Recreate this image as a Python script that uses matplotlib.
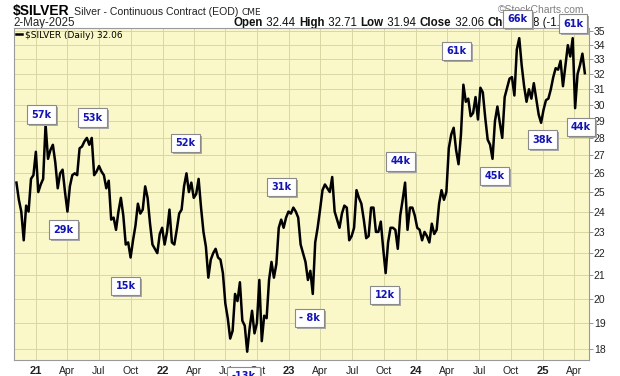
import matplotlib
matplotlib.use('Agg')
import matplotlib.pyplot as plt
import matplotlib.dates as mdates
import matplotlib.ticker as mticker
from matplotlib.transforms import offset_copy
import pandas as pd

plt.rcParams['font.family'] = ['Liberation Sans', 'DejaVu Sans']

W, H = 620, 376

# weekly closes of $SILVER
dates = pd.date_range('2020-11-06', '2025-05-02', freq='W-FRI')
closes = [
    # 2020
    25.5, 24.6, 24.0, 22.6, 24.3, 24.0, 25.7, 25.9,
    # 2021
    27.2, 25.0, 25.4, 25.7, 28.8,
    26.8, 27.3, 27.6, 26.6,
    25.2, 26.0, 26.2, 25.0,
    24.0, 25.3, 25.9, 26.0, 25.9,
    27.4, 27.5, 27.8, 28.0,
    27.6, 28.0, 25.9, 26.1,
    26.4, 26.1, 25.9, 25.2, 25.6,
    23.6, 23.7, 23.1, 24.0,
    24.7, 23.8, 22.4, 22.5,
    21.8, 22.6, 23.3, 24.4, 23.9,
    24.1, 25.3, 24.7, 23.4,
    22.4, 22.2, 22.0, 22.9, 23.2,
    # 2022
    22.4, 23.0, 24.1, 22.5,
    22.4, 23.1, 23.9, 24.1,
    25.3, 26.0, 25.0, 25.5,
    24.7, 24.9, 25.7, 24.2, 23.0,
    22.3, 20.9, 21.7, 22.0,
    22.2, 21.8, 21.7, 21.1,
    19.8, 19.2, 18.4, 18.7, 20.2,
    19.9, 20.7, 19.1, 18.9,
    17.9, 18.8, 19.5, 18.6, 19.0,
    20.8, 18.3, 19.3, 19.2,
    20.8, 21.6, 20.9, 21.5,
    23.2, 23.6, 23.2, 23.7, 24.0,
    # 2023
    23.9, 24.2, 24.0, 23.7,
    22.4, 22.0, 21.6, 20.8,
    21.2, 20.2, 22.5, 23.2, 24.1,
    25.1, 25.4, 25.2, 25.0,
    25.8, 24.0, 23.6, 23.2,
    23.9, 24.3, 24.2, 22.6, 22.8,
    23.2, 25.1, 24.7, 24.4,
    23.6, 22.7, 22.8, 24.2,
    24.2, 23.0, 23.0, 23.5, 22.2,
    21.1, 22.5, 23.2, 23.2,
    23.1, 22.2, 23.8, 24.6,
    25.5, 23.1, 24.2, 24.2, 23.8,
    # 2024
    23.2, 23.1, 22.6, 23.0,
    22.8, 22.5, 23.4, 22.9,
    23.1, 24.4, 25.1, 24.6, 25.0,
    27.4, 28.2, 28.6, 27.3,
    26.5, 28.2, 31.3, 30.2, 30.4,
    29.3, 29.5, 30.5, 29.1,
    31.1, 30.8, 29.2, 27.9,
    27.6, 26.8, 29.0, 29.9, 28.9,
    28.0, 30.5, 31.1, 31.7,
    31.8, 30.6, 33.7, 34.5,
    32.6, 31.2, 30.2, 31.0, 30.4,
    31.4, 30.4, 29.4, 28.9,
    # 2025
    29.7, 30.3, 30.4, 31.0, 31.8,
    32.4, 32.3, 32.9, 31.2,
    32.6, 34.0, 33.2, 34.5,
    29.8, 32.0, 32.6, 33.4,
    32.06,
]

tick_dates = pd.date_range('2021-01-01', '2025-04-01', freq='QS')
tick_labels = ['21', 'Apr', 'Jul', 'Oct', '22', 'Apr', 'Jul', 'Oct',
               '23', 'Apr', 'Jul', 'Oct', '24', 'Apr', 'Jul', 'Oct',
               '25', 'Apr']
price_ticks = list(range(18, 36))

# volume-style notes in boxes: label, date, price level
notes = [
    ('57k', '2021-01-18', 29.4), ('53k', '2021-06-14', 29.2),
    ('29k', '2021-03-22', 23.1), ('15k', '2021-09-17', 20.54),
    ('52k', '2022-03-09', 27.7), ('-13k', '2022-08-23', 17.01),
    ('31k', '2022-12-10', 25.26), ('- 8k', '2023-03-01', 19.21),
    ('12k', '2023-10-03', 20.15), ('44k', '2023-11-18', 26.67),
    ('61k', '2024-04-28', 33.58), ('45k', '2024-08-15', 25.85),
    ('66k', '2024-10-19', 35.91), ('38k', '2025-01-01', 27.9),
    ('61k', '2025-03-29', 35.57), ('44k', '2025-04-21', 28.64),
]

fig = plt.figure(figsize=(W / 100, H / 100), dpi=100)
ax = fig.add_axes([14 / W, (H - 359.5) / H, (589 - 14) / W, (359.5 - 28.3) / H])
ax.set_facecolor('#faf8c9')

ax.plot(dates, closes, color='black', lw=1.8, label=r'\$SILVER (Daily) 32.06')

ax.set_yscale('log')
ax.set_ylim(17.61, 35.22)
ax.set_xlim(pd.Timestamp('2020-10-30'), pd.Timestamp('2025-05-14'))
ax.yaxis.set_major_locator(mticker.FixedLocator(price_ticks))
ax.yaxis.set_major_formatter(mticker.FuncFormatter(lambda v, _: f'{v:.0f}'))
ax.yaxis.set_minor_locator(mticker.NullLocator())
ax.yaxis.tick_right()
ax.tick_params(axis='y', direction='out', length=3, width=0.6, color='#888888',
               labelsize=7.5, pad=0.5, labelcolor='#222222')
ax.set_xticks(tick_dates)
ax.set_xticklabels(tick_labels)
ax.tick_params(axis='x', length=0, pad=4.5, labelsize=7.5, labelcolor='#222222')
for lab in ax.get_xticklabels():
    if lab.get_text().isdigit():
        lab.set_fontweight('bold')
        lab.set_fontsize(8)
ax.grid(True, color='#d8d6a2', lw=0.7)
ax.set_axisbelow(True)
for sp in ax.spines.values():
    sp.set_color('#9a9a9a')
    sp.set_linewidth(0.8)

leg = ax.legend(loc='upper left', bbox_to_anchor=(0, 1), borderaxespad=0,
                borderpad=0.25, handlelength=0.6, handletextpad=0.35,
                frameon=False, prop={'family': 'DejaVu Sans', 'size': 6.5})

# annotation boxes with drop shadow
shadow_tr = offset_copy(ax.transData, fig=fig, x=2, y=-2, units='dots')
for lab, d, p in notes:
    xd = mdates.date2num(pd.Timestamp(d))
    ax.text(xd, p, lab, transform=shadow_tr, ha='center', va='center',
            fontsize=7, fontweight='bold', family='DejaVu Sans', color=(0, 0, 0, 0),
            bbox=dict(boxstyle='square,pad=0.45', fc='#a8a8a8', ec='none'),
            clip_on=False, zorder=5)
    ax.text(xd, p, lab, ha='center', va='center',
            fontsize=7, fontweight='bold', family='DejaVu Sans', color='#1414b4',
            bbox=dict(boxstyle='square,pad=0.45', fc='white', ec='#8a8a8a', lw=0.8),
            clip_on=False, zorder=6)

# header texts
fig.text(13 / W, 1 - 15 / H, r'\$SILVER', fontsize=10, fontweight='bold',
         va='baseline', zorder=-1)
fig.text(74 / W, 1 - 15 / H, 'Silver - Continuous Contract (EOD)', fontsize=7.6,
         va='baseline', color='#222222', zorder=-1)
fig.text(242 / W, 1 - 15 / H, 'CME', fontsize=6.5, family='DejaVu Sans',
         va='baseline', color='#222222', zorder=-1)
fig.text(13 / W, 1 - 26 / H, '2-May-2025', fontsize=8.3, va='baseline',
         color='#222222', zorder=-1)
fig.text(498 / W, 1 - 13 / H, '\u00a9StockCharts.com', fontsize=7.5,
         va='baseline', color='#808080', zorder=-1)

quote = [('Open', 'bold'), (' 32.44 ', 'normal'), ('High', 'bold'), (' 32.71 ', 'normal'),
         ('Low', 'bold'), (' 31.94 ', 'normal'), ('Close', 'bold'), (' 32.06 ', 'normal'),
         ('Chg', 'bold'), (' -0.38 (-1.17%)', 'normal')]
renderer = fig.canvas.get_renderer()
xpix = 233
for s, wt in quote:
    t = fig.text(xpix / W, 1 - 26 / H, s, fontsize=8.3, fontweight=wt,
                 va='baseline', color='#111111', zorder=-1)
    xpix = t.get_window_extent(renderer).x1 + 0.5

fig.savefig('out.png', dpi=100)
